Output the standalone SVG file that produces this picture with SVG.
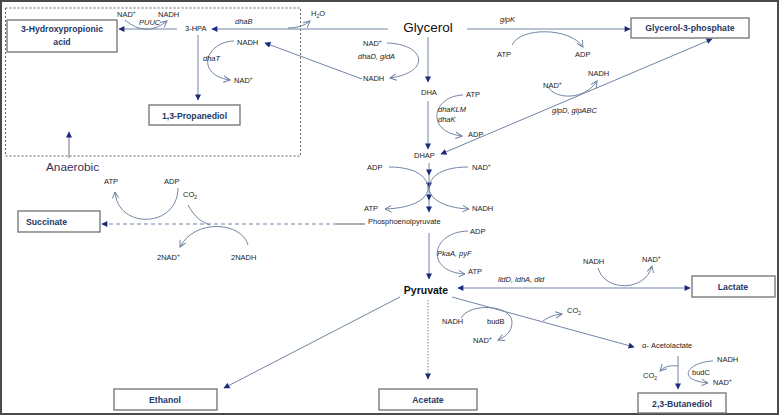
<svg xmlns="http://www.w3.org/2000/svg" width="780" height="417" viewBox="0 0 780 417">
<style>
.t{font-family:"Liberation Sans",Arial,sans-serif;font-size:7.5px;fill:#222}
.i{font-style:italic}
.b{font-family:"Liberation Sans",Arial,sans-serif;font-weight:bold;font-size:8.7px;fill:#1f3864}
.box{fill:#fff;stroke:#707070;stroke-width:1.3}
.ln{fill:none;stroke:#7085a5;stroke-width:1}
.fa{marker-end:url(#fa)}
.oa{marker-end:url(#oa)}
</style>
<defs>
<marker id="fa" viewBox="0 0 10 10" refX="9" refY="5" markerWidth="7" markerHeight="6" orient="auto-start-reverse" markerUnits="userSpaceOnUse"><path d="M0,0 L10,5 L0,10 z" fill="#1b2a7a"/></marker>
<marker id="oa" viewBox="0 0 10 10" refX="9" refY="5" markerWidth="8" markerHeight="8" orient="auto" markerUnits="userSpaceOnUse"><path d="M1,1 L9,5 L1,9" fill="none" stroke="#6a7fa0" stroke-width="1.2"/></marker>
</defs>
<rect x="1" y="1" width="777" height="413" fill="#fff" stroke="#4a4a4a" stroke-width="2"/>
<rect x="5.5" y="8" width="295" height="148" fill="none" stroke="#666" stroke-width="1" stroke-dasharray="2,2"/>

<g id="connectors">
<path class="ln fa" d="M177,29 L119,29"/>
<path class="ln fa" d="M388,29 L212,29"/>
<path class="ln fa" d="M362,79 L265,43"/>
<path class="ln fa" d="M198,35 L198,100"/>
<path class="ln fa" d="M428,37 L428,82"/>
<path class="ln fa" d="M467,29 L630,29"/>
<path class="ln fa" d="M428,101 L428,149"/>
<path class="ln fa" d="M712,39 L441,154" marker-start="url(#fa)"/>
<polyline class="ln" points="429,163 429,175 429,188 429,200 429,212" marker-mid="url(#fa)" marker-end="url(#fa)"/>
<path d="M337,224 L365,224" fill="none" stroke="#999" stroke-width="1.6"/>
<path class="ln fa" d="M337,224 L102,224" stroke-dasharray="4,3"/>
<path class="ln fa" d="M429,233 L429,279"/>
<path class="ln fa" d="M458,288 L690,288" marker-start="url(#fa)"/>
<path class="ln fa" d="M400,297 L224,388"/>
<path class="ln fa" d="M428,300 L428,379" stroke-dasharray="1.5,1.5"/>
<path class="ln fa" d="M452,297 L634,347"/>
<path class="ln fa" d="M678,356 L678,389"/>
<path d="M69,158 L69,132" fill="none" stroke="#7a6a8a" stroke-width="1" marker-end="url(#fa)"/>
<!-- cofactor curves -->
<path class="ln oa" d="M125,20 Q146,38 167,21"/>
<path class="ln oa" d="M288,28 Q302,28 310,21"/>
<path class="ln oa" d="M234,41 C205,42 195,75 230,80"/>
<path class="ln oa" d="M387,43 C425,44 432,72 390,78"/>
<path class="ln oa" d="M463,95 C432,96 425,132 462,136"/>
<path class="ln oa" d="M512,45 C520,27 570,27 583,47"/>
<path class="ln oa" d="M548,87 C556,100 585,100 597,81"/>
<path class="ln oa" d="M389,167 C420,167 428,180 428,188 C428,198 415,208 385,209"/>
<path class="ln oa" d="M468,167 C437,167 429,180 429,188 C429,198 443,208 469,209"/>
<path class="ln oa" d="M178,188 C178,228 118,230 115,192"/>
<path class="ln" d="M188,205 C195,218 202,222 210,225"/>
<path class="ln oa" d="M248,245 C242,222 195,218 180,247"/>
<path class="ln oa" d="M468,231 C430,232 425,272 465,274"/>
<path class="ln oa" d="M598,268 C605,292 645,292 652,266"/>
<path class="ln oa" d="M461,318 C470,302 512,305 512,322 C512,332 505,337 498,340"/>
<path class="ln oa" d="M543,321 C550,316 555,315 562,314"/>
<path class="ln oa" d="M713,361 C688,362 675,380 708,383"/>
<path class="ln oa" d="M678,366 C668,365 664,367 660,371"/>
</g>

<g id="n-3hp"><rect class="box" x="7" y="20" width="110" height="32"/><text class="b" x="62" y="32" text-anchor="middle">3-Hydroxypropionic</text><text class="b" x="62" y="45" text-anchor="middle">acid</text></g>
<g id="n-pdo"><rect class="box" x="149" y="105" width="91" height="20"/><text class="b" x="194.5" y="118.5" text-anchor="middle">1,3-Propanediol</text></g>
<g id="n-g3p"><rect class="box" x="631" y="18" width="118" height="20"/><text class="b" x="690" y="31" text-anchor="middle">Glycerol-3-phosphate</text></g>
<g id="n-succ"><rect class="box" x="18" y="211" width="82" height="21"/><text class="b" x="26" y="225">Succinate</text></g>
<g id="n-lac"><rect class="box" x="692" y="276" width="83" height="21"/><text class="b" x="733" y="290" text-anchor="middle">Lactate</text></g>
<g id="n-eth"><rect class="box" x="114" y="389" width="103" height="21"/><text class="b" x="165" y="403" text-anchor="middle">Ethanol</text></g>
<g id="n-ace"><rect class="box" x="379" y="389" width="98" height="21"/><text class="b" x="428" y="403" text-anchor="middle">Acetate</text></g>
<g id="n-bdo"><rect class="box" x="638" y="393" width="88" height="20"/><text class="b" x="682" y="406.5" text-anchor="middle">2,3-Butanediol</text></g>

<g id="n-glycerol"><text x="428" y="32" text-anchor="middle" style="font-family:'Liberation Sans',Arial,sans-serif;font-size:13.5px;fill:#111">Glycerol</text></g>
<g id="n-anaerobic"><text x="46" y="171" style="font-family:'Liberation Sans',Arial,sans-serif;font-size:11.8px;fill:#35305a">Anaerobic</text></g>
<g id="n-pyruvate"><text x="426" y="294" text-anchor="middle" style="font-family:'Liberation Sans',Arial,sans-serif;font-size:10.5px;font-weight:bold;fill:#111">Pyruvate</text></g>
<g id="n-3hpa"><text class="t" x="185" y="31">3-HPA</text></g>
<g id="n-dha"><text class="t" x="421" y="95">DHA</text></g>
<g id="n-dhap"><text class="t" x="414" y="158">DHAP</text></g>
<g id="n-pep"><text class="t" x="368" y="224">Phosphoenolpyruvate</text></g>
<g id="n-acetolactate"><text class="t" x="642" y="348">α- Acetolactate</text></g>

<g id="labels">
<text class="t" x="117" y="17">NAD<tspan dy="-3" font-size="5">+</tspan></text>
<text class="t i" x="139" y="25" font-size="5.5">PUUC</text>
<text class="t" x="158" y="17">NADH</text>
<text class="t" x="311" y="16">H<tspan dy="2" font-size="5">2</tspan><tspan dy="-2">O</tspan></text>
<text class="t i" x="235" y="24">dhaB</text>
<text class="t" x="237" y="45">NADH</text>
<text class="t i" x="203" y="61">dhaT</text>
<text class="t" x="234" y="83">NAD<tspan dy="-3" font-size="5">+</tspan></text>
<text class="t" x="363" y="46">NAD<tspan dy="-3" font-size="5">+</tspan></text>
<text class="t i" x="358" y="59">dhaD, gldA</text>
<text class="t" x="363" y="81">NADH</text>
<text class="t" x="466" y="97">ATP</text>
<text class="t i" x="438" y="112">dhaKLM</text>
<text class="t i" x="438" y="122">dhaK</text>
<text class="t" x="468" y="137">ADP</text>
<text class="t i" x="500" y="22">glpK</text>
<text class="t" x="497" y="57">ATP</text>
<text class="t" x="575" y="57">ADP</text>
<text class="t" x="543" y="88">NAD<tspan dy="-3" font-size="5">+</tspan></text>
<text class="t" x="588" y="76">NADH</text>
<text class="t i" x="552" y="113">glpD, glpABC</text>
<text class="t" x="367" y="170">ADP</text>
<text class="t" x="472" y="170">NAD<tspan dy="-3" font-size="5">+</tspan></text>
<text class="t" x="364" y="211">ATP</text>
<text class="t" x="472" y="211">NADH</text>
<text class="t" x="104" y="184">ATP</text>
<text class="t" x="164" y="184">ADP</text>
<text class="t" x="183" y="197">CO<tspan dy="2" font-size="5">2</tspan></text>
<text class="t" x="157" y="260">2NAD<tspan dy="-3" font-size="5">+</tspan></text>
<text class="t" x="231" y="260">2NADH</text>
<text class="t" x="470" y="234">ADP</text>
<text class="t i" x="437" y="256">PkaA, pyF</text>
<text class="t" x="468" y="274">ATP</text>
<text class="t i" x="498" y="282">lldD, ldhA, dld</text>
<text class="t" x="583" y="264">NADH</text>
<text class="t" x="642" y="262">NAD<tspan dy="-3" font-size="5">+</tspan></text>
<text class="t" x="442" y="324">NADH</text>
<text class="t" x="487" y="324">budB</text>
<text class="t" x="473" y="343">NAD<tspan dy="-3" font-size="5">+</tspan></text>
<text class="t" x="567" y="313">CO<tspan dy="2" font-size="5">2</tspan></text>
<text class="t" x="717" y="362">NADH</text>
<text class="t" x="692" y="375">budC</text>
<text class="t" x="713" y="385">NAD<tspan dy="-3" font-size="5">+</tspan></text>
<text class="t" x="643" y="378">CO<tspan dy="2" font-size="5">2</tspan></text>
</g>
</svg>
